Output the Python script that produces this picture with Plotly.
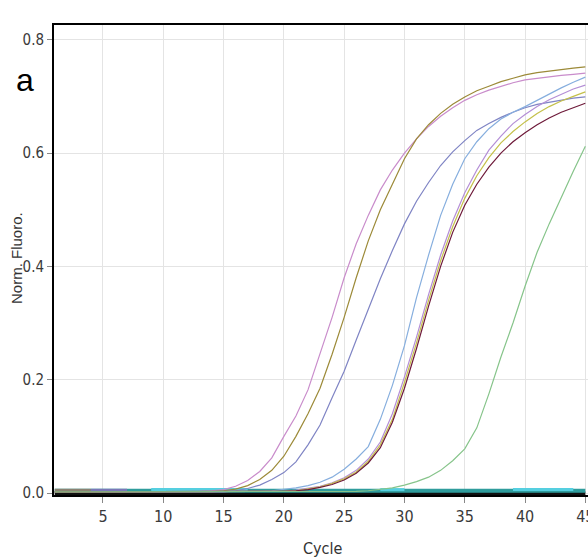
import plotly.graph_objects as go

cycles = list(range(1, 46))

pink = [0.002]*11 + [0.003, 0.003, 0.004, 0.006, 0.012, 0.022, 0.038, 0.062, 0.100,
        0.136, 0.182, 0.245, 0.310, 0.380, 0.440, 0.490, 0.535, 0.570, 0.600,
        0.625, 0.647, 0.665, 0.680, 0.693, 0.703, 0.711, 0.718, 0.724, 0.729,
        0.732, 0.735, 0.737, 0.739, 0.741]
olive = [0.002]*14 + [0.004, 0.007, 0.013, 0.024, 0.040, 0.065, 0.100, 0.140, 0.185,
         0.245, 0.310, 0.380, 0.445, 0.500, 0.545, 0.590, 0.625, 0.650, 0.670,
         0.686, 0.699, 0.710, 0.718, 0.726, 0.732, 0.738, 0.742, 0.745, 0.748,
         0.750, 0.752]
slate = [0.002]*15 + [0.004, 0.008, 0.014, 0.024, 0.036, 0.055, 0.085, 0.120, 0.168,
         0.215, 0.270, 0.325, 0.378, 0.428, 0.475, 0.515, 0.548, 0.578, 0.602,
         0.622, 0.640, 0.652, 0.663, 0.672, 0.680, 0.686, 0.690, 0.694, 0.697,
         0.699]
lightblue = [0.002]*17 + [0.003, 0.004, 0.006, 0.009, 0.013, 0.019, 0.028, 0.042,
             0.060, 0.082, 0.130, 0.190, 0.260, 0.345, 0.420, 0.490, 0.545, 0.590,
             0.620, 0.643, 0.660, 0.672, 0.682, 0.693, 0.705, 0.715, 0.725, 0.734]
lavender = [0.002]*19 + [0.003, 0.005, 0.008, 0.012, 0.018, 0.027, 0.040, 0.060,
            0.090, 0.140, 0.205, 0.275, 0.350, 0.420, 0.480, 0.530, 0.570, 0.605,
            0.630, 0.652, 0.668, 0.682, 0.694, 0.704, 0.713, 0.720]
yellowgreen = [0.002]*19 + [0.003, 0.004, 0.007, 0.011, 0.017, 0.025, 0.037, 0.056,
               0.085, 0.130, 0.195, 0.265, 0.340, 0.410, 0.470, 0.520, 0.560, 0.592,
               0.618, 0.638, 0.655, 0.670, 0.682, 0.692, 0.700, 0.708]
maroon = [0.002]*19 + [0.003, 0.004, 0.006, 0.010, 0.015, 0.023, 0.035, 0.053,
          0.080, 0.125, 0.185, 0.255, 0.330, 0.400, 0.460, 0.508, 0.545, 0.575,
          0.600, 0.620, 0.636, 0.650, 0.662, 0.672, 0.680, 0.688]
green = [0.002]*25 + [0.003, 0.004, 0.006, 0.009, 0.014, 0.020, 0.028, 0.040, 0.057,
         0.078, 0.115, 0.175, 0.240, 0.300, 0.365, 0.425, 0.475, 0.522, 0.568, 0.612]

# non-amplifying (baseline) wells
base_black = [-0.001]*45
base_teal = [0.004]*45
base_cyan = [None]*8 + [0.006]*9 + [None]*10 + [0.006]*3 + [None]*8 + [0.006]*6 + [None]
base_gray = [0.004]*4 + [None]*41
base_blue = [None]*3 + [0.004]*4 + [None]*38

amplified = [
    ("pink", pink, "#c98ccb"),
    ("olive", olive, "#9c8a38"),
    ("slate", slate, "#7f84c4"),
    ("lightblue", lightblue, "#86aede"),
    ("lavender", lavender, "#b48ed6"),
    ("yellowgreen", yellowgreen, "#c4c04a"),
    ("maroon", maroon, "#6e1a3a"),
    ("green", green, "#86c48a"),
]
baselines = [
    ("b1", base_black, "#101010", 4),
    ("b2", base_teal, "#2f9c9c", 4),
    ("b3", base_cyan, "#55cfe0", 3),
    ("b4", base_gray, "#8a8272", 4),
    ("b5", base_blue, "#7a78b8", 4),
]

fig = go.Figure()
for name, vals, col, w in baselines:
    fig.add_trace(go.Scatter(x=cycles, y=vals, mode="lines", name=name,
                             line=dict(color=col, width=w), connectgaps=False))
for name, vals, col in amplified:
    fig.add_trace(go.Scatter(x=cycles, y=vals, mode="lines", name=name,
                             line=dict(color=col, width=1.2)))

narrow = "DejaVu Sans Condensed, Liberation Sans, Arial"

fig.update_layout(
    width=588, height=560,
    margin=dict(l=54, r=0, t=25, b=65, autoexpand=False),
    paper_bgcolor="white", plot_bgcolor="white",
    showlegend=False,
    xaxis=dict(range=[0.94, 45.22], tickvals=[5, 10, 15, 20, 25, 30, 35, 40, 45],
               showline=True, linecolor="black", linewidth=2, mirror=True,
               ticks="outside", ticklen=6, tickcolor="#888888", tickwidth=1,
               showgrid=True, gridcolor="#e4e4e4", gridwidth=1, zeroline=False,
               ticklabeloverflow="allow", automargin=False,
               tickfont=dict(family=narrow, size=16, color="#3a3a3a")),
    yaxis=dict(range=[-0.0035, 0.826], tickvals=[0, 0.2, 0.4, 0.6, 0.8], tickformat=".1f",
               showline=True, linecolor="black", linewidth=2, automargin=False,
               ticks="outside", ticklen=5, tickcolor="#888888", tickwidth=1,
               showgrid=True, gridcolor="#e4e4e4", gridwidth=1, zeroline=False,
               tickfont=dict(family=narrow, size=15, color="#3a3a3a")),
    annotations=[
        dict(text="a", x=(25-54)/534, y=(495-80)/470, xref="paper", yref="paper",
             showarrow=False, xanchor="center", yanchor="middle",
             font=dict(family="Liberation Sans, Arial", size=32, color="black")),
        dict(text="Norm. Fluoro.", x=(16-54)/534, y=(495-258)/470, xref="paper", yref="paper",
             showarrow=False, xanchor="center", yanchor="middle", textangle=-90,
             font=dict(family="Liberation Sans, Arial", size=15, color="#333333")),
        dict(text="Cycle", x=(322-54)/534, y=(495-548)/470, xref="paper", yref="paper",
             showarrow=False, xanchor="center", yanchor="middle",
             font=dict(family=narrow, size=16, color="#333333")),
    ],
)

fig.write_html("out.html")
